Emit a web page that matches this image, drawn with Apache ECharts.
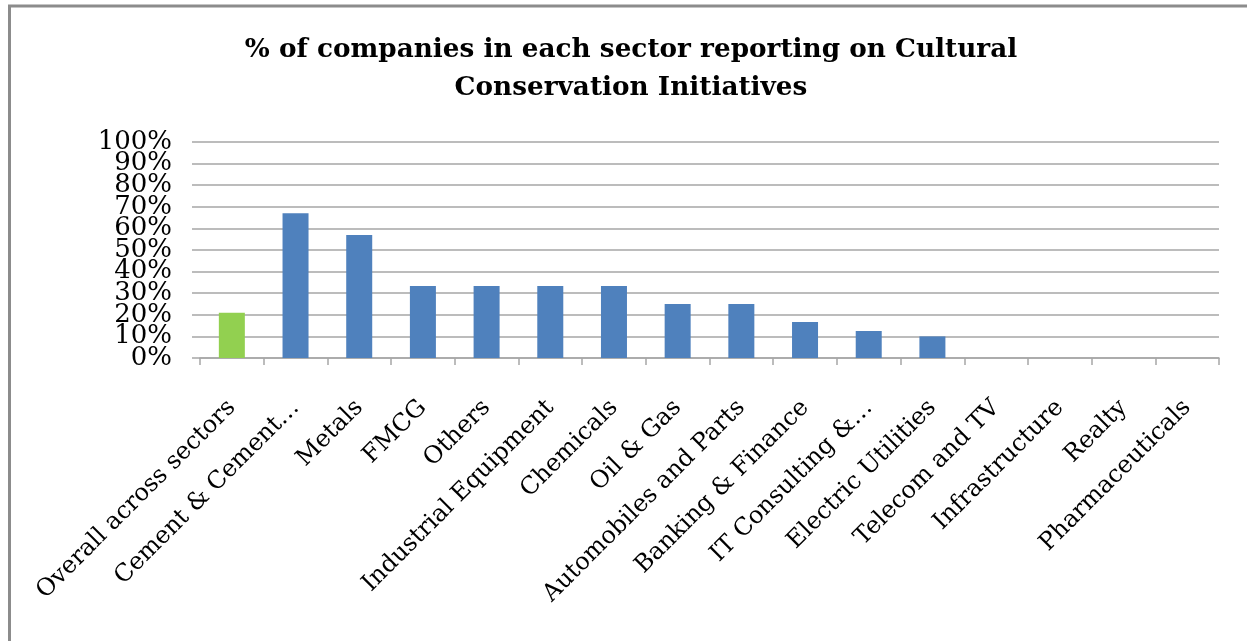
<!DOCTYPE html>
<html>
<head>
<meta charset="utf-8">
<script src="https://cdn.jsdelivr.net/npm/echarts@6/dist/echarts.min.js"></script>
<style>
  html, body { margin: 0; padding: 0; background: #fff; }
  #chart { width: 1247px; height: 641px; }
</style>
</head>
<body>
<div id="chart"></div>
<script>
// Sectors, in the order they are plotted
const categories = [
  'Overall across sectors', 'Cement & Cement…', 'Metals', 'FMCG', 'Others',
  'Industrial Equipment', 'Chemicals', 'Oil & Gas', 'Automobiles and Parts',
  'Banking & Finance', 'IT Consulting &…', 'Electric Utilities', 'Telecom and TV',
  'Infrastructure', 'Realty', 'Pharmaceuticals'
];
// Share of companies reporting on cultural conservation initiatives (%)
const values = [21, 67, 57, 33.3, 33.3, 33.3, 33.3, 25, 25, 16.7, 12.5, 10, 0, 0, 0, 0];
// Y axis ticks (%)
const yTicks = [0, 10, 20, 30, 40, 50, 60, 70, 80, 90, 100];

const titleText = '% of companies in each sector reporting on Cultural\nConservation Initiatives';

const serif = "'DejaVu Serif', 'Liberation Serif', serif";
const blue = '#4F81BD';
const green = '#92D050';
const gridGray = '#a6a6a6';

// The tick labels are taller than the tick spacing, so they are split over two
// overlaid value axes (alternate ticks) to keep every label visible.
const evenTicks = yTicks.filter((_, i) => i % 2 === 0);
const oddTicks = yTicks.filter((_, i) => i % 2 === 1);

function valueAxis(ticks) {
  return {
    type: 'value',
    position: 'left',
    min: yTicks[0],
    max: yTicks[yTicks.length - 1],
    interval: yTicks[1] - yTicks[0],
    axisLine: { show: false },
    axisTick: {
      show: true, length: 8, customValues: ticks,
      lineStyle: { color: gridGray, width: 1.5 }
    },
    splitLine: { show: true, lineStyle: { color: gridGray, width: 1.5 } },
    axisLabel: {
      margin: 28,
      customValues: ticks,
      showMinLabel: true,
      showMaxLabel: true,
      fontFamily: serif,
      fontSize: 26,
      color: '#000',
      formatter: '{value}%'
    }
  };
}

const chart = echarts.init(document.getElementById('chart'), null, { renderer: 'canvas' });

chart.setOption({
  backgroundColor: '#ffffff',
  animation: false,
  graphic: [
    { type: 'line', shape: { x1: 8, y1: 6, x2: 1247, y2: 6 }, style: { stroke: '#8c8c8c', lineWidth: 3 } },
    { type: 'line', shape: { x1: 9.5, y1: 5, x2: 9.5, y2: 641 }, style: { stroke: '#8c8c8c', lineWidth: 3 } },
    {
      type: 'text',
      x: 631,
      y: 31,
      style: {
        text: titleText,
        align: 'center',
        verticalAlign: 'top',
        fontFamily: serif,
        fontWeight: 'bold',
        fontSize: 26.3,
        lineHeight: 38,
        fill: '#000'
      }
    }
  ],
  grid: { left: 200, right: 28, top: 142, bottom: 283, containLabel: false },
  xAxis: {
    type: 'category',
    data: categories,
    boundaryGap: true,
    axisLine: { show: true, lineStyle: { color: gridGray, width: 1.5 } },
    axisTick: { show: true, length: 7, interval: 0, lineStyle: { color: gridGray, width: 1.5 } },
    axisLabel: {
      interval: 0,
      rotate: 45,
      margin: 46,
      fontFamily: serif,
      fontSize: 24,
      color: '#000'
    }
  },
  yAxis: [valueAxis(evenTicks), valueAxis(oddTicks)],
  series: [{
    type: 'bar',
    yAxisIndex: 0,
    data: values.map((v, i) => ({
      value: v,
      itemStyle: { color: i === 0 ? green : blue }
    })),
    barWidth: 26
  }]
});
</script>
</body>
</html>
